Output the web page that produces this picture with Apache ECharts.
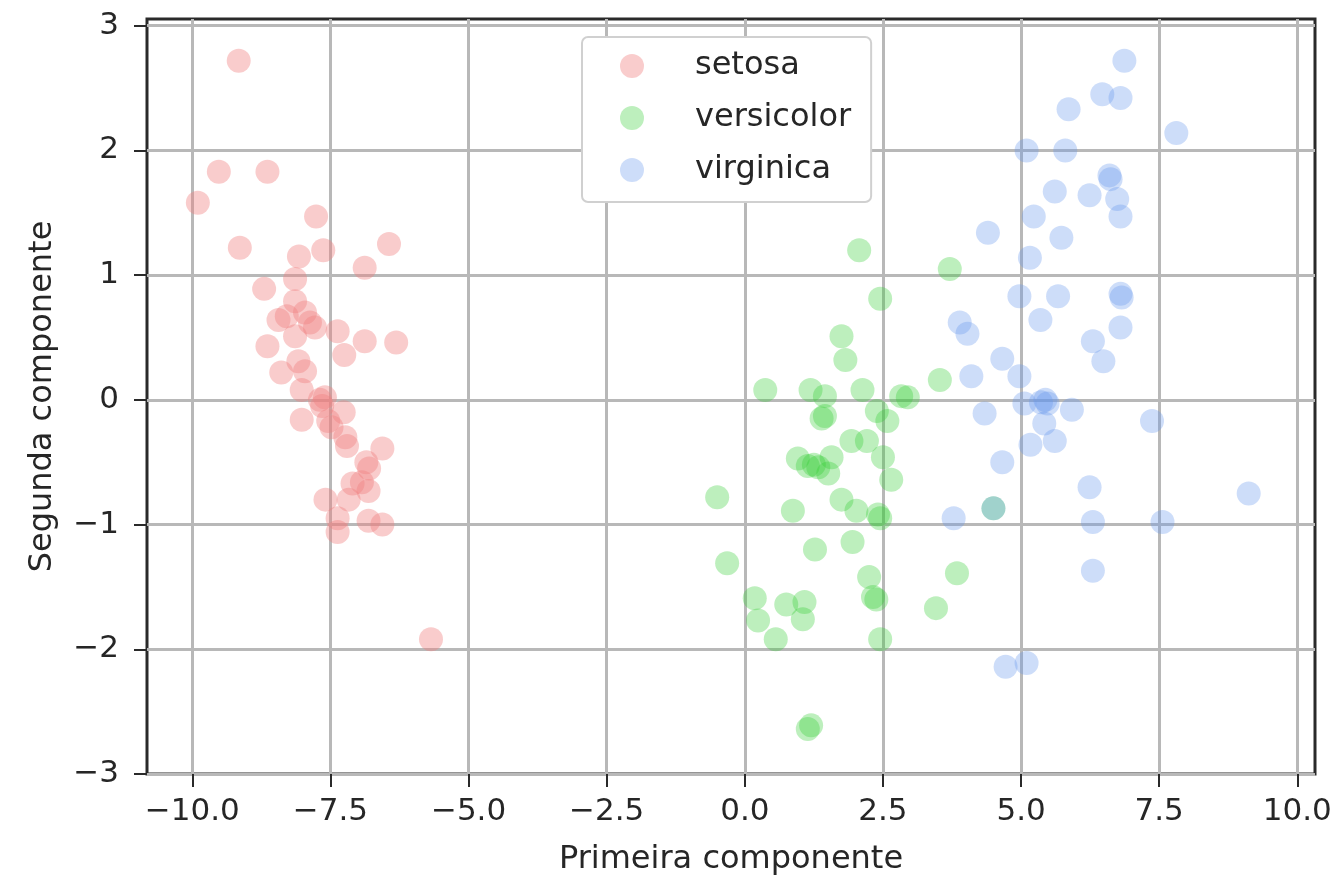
<!DOCTYPE html>
<html>
<head>
<meta charset="utf-8">
<script src="https://cdn.jsdelivr.net/npm/echarts@6/dist/echarts.min.js"></script>
<style>
html,body{margin:0;padding:0;background:#fff;}
#chart{width:1339px;height:881px;}
</style>
</head>
<body>
<div id="chart"></div>
<script>
const seriesNames = ['setosa', 'versicolor', 'virginica'];
const xTicks = [-10, -7.5, -5, -2.5, 0, 2.5, 5, 7.5, 10];
const yTicks = [-3, -2, -1, 0, 1, 2, 3];

const setosa = [
  [-9.16, 2.72], [-9.52, 1.83], [-8.64, 1.83], [-9.90, 1.58], [-7.76, 1.47],
  [-9.14, 1.22], [-8.07, 1.15], [-7.63, 1.20], [-6.44, 1.25], [-6.88, 1.06],
  [-8.70, 0.89], [-8.14, 0.97], [-8.14, 0.79], [-8.44, 0.64], [-8.29, 0.67],
  [-7.96, 0.70], [-7.87, 0.62], [-8.14, 0.51], [-7.78, 0.58], [-7.37, 0.55],
  [-6.88, 0.47], [-6.31, 0.46], [-8.64, 0.43], [-7.25, 0.36], [-8.08, 0.31],
  [-8.39, 0.22], [-7.96, 0.23], [-8.02, 0.08], [-7.69, 0.00], [-8.02, -0.16],
  [-7.26, -0.10], [-7.54, -0.17], [-7.48, -0.22], [-7.23, -0.30], [-7.20, -0.37],
  [-6.56, -0.39], [-6.85, -0.50], [-6.93, -0.66], [-6.81, -0.73], [-7.10, -0.67],
  [-7.59, -0.80], [-7.17, -0.80], [-7.37, -0.95], [-7.37, -1.06], [-6.81, -0.97],
  [-6.56, -1.00], [-5.68, -1.92], [-7.60, 0.02], [-6.80, -0.55], [-7.65, -0.05]
];

const versicolor = [
  [2.07, 1.20], [3.71, 1.05], [2.45, 0.81], [1.75, 0.51], [1.82, 0.32],
  [3.53, 0.16], [0.37, 0.08], [1.19, 0.08], [1.45, 0.03], [2.13, 0.08],
  [2.83, 0.03], [2.95, 0.02], [1.39, -0.15], [1.45, -0.13], [2.39, -0.09],
  [2.58, -0.17], [1.93, -0.33], [2.21, -0.33], [2.50, -0.46], [0.96, -0.47],
  [1.14, -0.53], [1.33, -0.54], [1.51, -0.59], [1.57, -0.46], [2.65, -0.64],
  [-0.50, -0.78], [0.87, -0.89], [1.75, -0.80], [2.02, -0.89], [2.41, -0.92],
  [2.45, -0.95], [1.27, -1.20], [1.95, -1.14], [-0.32, -1.31], [2.25, -1.42],
  [2.32, -1.58], [2.38, -1.60], [0.18, -1.59], [0.75, -1.64], [1.08, -1.62],
  [1.05, -1.76], [0.24, -1.77], [0.56, -1.92], [2.45, -1.92], [3.84, -1.39],
  [3.46, -1.67], [1.14, -2.64], [1.20, -2.61], [4.50, -0.87], [1.25, -0.52]
];

const virginica = [
  [6.87, 2.72], [6.47, 2.45], [6.80, 2.42], [5.86, 2.33], [7.81, 2.14],
  [5.10, 2.00], [5.80, 2.00], [6.60, 1.80], [6.62, 1.77], [5.61, 1.67],
  [6.24, 1.64], [6.74, 1.61], [6.80, 1.47], [5.23, 1.47], [4.40, 1.34],
  [5.73, 1.30], [5.16, 1.14], [4.97, 0.83], [5.67, 0.83], [6.80, 0.85],
  [6.82, 0.82], [5.35, 0.64], [6.80, 0.58], [3.89, 0.62], [4.03, 0.53],
  [6.30, 0.47], [6.49, 0.31], [4.66, 0.33], [4.10, 0.19], [4.97, 0.19],
  [5.06, -0.03], [5.36, -0.02], [5.48, -0.03], [5.92, -0.08], [4.34, -0.11],
  [5.42, -0.19], [7.37, -0.17], [5.17, -0.36], [5.61, -0.33], [4.66, -0.50],
  [6.24, -0.70], [9.12, -0.75], [4.50, -0.87], [3.78, -0.95], [6.30, -0.98],
  [7.56, -0.98], [6.30, -1.37], [4.72, -2.14], [5.10, -2.11], [5.44, 0.00]
];

const colors = ['rgba(240,128,128,0.5)', 'rgba(50,205,50,0.4)', 'rgba(100,149,237,0.4)'];
const font = 'DejaVu Sans';
const textColor = '#262626';
const minusFmt = s => s.replace('-', '\u2212');

const chart = echarts.init(document.getElementById('chart'), null, {renderer: 'canvas'});
const dataSets = [setosa, versicolor, virginica];

chart.setOption({
  animation: false,
  backgroundColor: '#ffffff',
  textStyle: {fontFamily: font},
  grid: {
    left: 147, right: 24, top: 19, bottom: 103,
    show: true, borderColor: '#2a2a2a', borderWidth: 3, backgroundColor: 'transparent'
  },
  legend: {
    orient: 'vertical',
    left: 582, top: 37,
    padding: [11, 20, 14, 38],
    itemGap: 16,
    itemWidth: 24, itemHeight: 24,
    icon: 'circle',
    backgroundColor: '#ffffff',
    borderColor: '#d0d0d0', borderWidth: 2, borderRadius: 6,
    textStyle: {fontFamily: font, fontSize: 32, color: textColor, lineHeight: 36, padding: [0, 0, 0, 46]},
    data: seriesNames
  },
  xAxis: {
    type: 'value', min: -10.82, max: 10.32,
    name: 'Primeira componente', nameLocation: 'middle', nameGap: 70,
    nameTextStyle: {fontFamily: font, fontSize: 32, color: textColor},
    axisLine: {show: false, onZero: false},
    axisTick: {show: true, inside: false, customValues: xTicks, length: 13, lineStyle: {color: '#2a2a2a', width: 2}},
    axisLabel: {customValues: xTicks, margin: 22, fontFamily: font, fontSize: 31, color: textColor,
      formatter: v => minusFmt(Number(v).toFixed(1))},
    splitLine: {show: true, lineStyle: {color: '#b8b8b8', width: 3}}
  },
  yAxis: {
    type: 'value', min: -3, max: 3.054,
    name: 'Segunda componente', nameLocation: 'middle', nameGap: 88, nameRotate: 90,
    nameTextStyle: {fontFamily: font, fontSize: 32, color: textColor},
    axisLine: {show: false, onZero: false},
    axisTick: {show: true, inside: false, customValues: yTicks, length: 13, lineStyle: {color: '#2a2a2a', width: 2}},
    axisLabel: {customValues: yTicks, margin: 28, fontFamily: font, fontSize: 31, color: textColor,
      formatter: v => minusFmt(String(Math.round(v)))},
    splitLine: {show: true, lineStyle: {color: '#b8b8b8', width: 3}}
  },
  series: seriesNames.map((n, i) => ({
    name: n,
    type: 'scatter',
    data: dataSets[i],
    symbol: 'circle',
    symbolSize: 24,
    itemStyle: {color: colors[i]},
    emphasis: {disabled: true}
  }))
});
</script>
</body>
</html>
